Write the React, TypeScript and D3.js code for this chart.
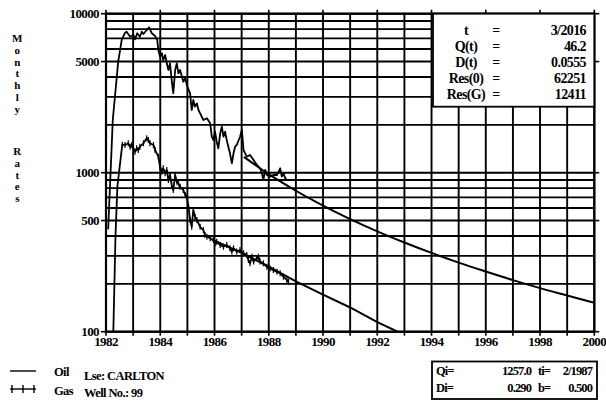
import * as d3 from "d3";

// upper curve (Oil, plain line)
const oilYears = [
  1982.08, 1982.25, 1982.45, 1982.58, 1982.7, 1982.76, 1982.89, 1983.01, 1983.07, 1983.15,
  1983.25, 1983.32, 1983.38, 1983.5, 1983.59, 1983.69, 1983.81, 1983.89, 1983.93, 1983.99,
  1984.06, 1984.11, 1984.18, 1984.24, 1984.3, 1984.36, 1984.42, 1984.48, 1984.55, 1984.61,
  1984.67, 1984.73, 1984.85, 1984.92, 1985.0, 1985.1, 1985.16, 1985.22, 1985.28, 1985.35,
  1985.41, 1985.47, 1985.59, 1985.72, 1985.84, 1985.9, 1985.96, 1986.02, 1986.08, 1986.14,
  1986.21, 1986.27, 1986.33, 1986.39, 1986.45, 1986.51, 1986.57, 1986.64, 1986.7, 1986.76,
  1986.82, 1986.94, 1987.01, 1987.07, 1987.13, 1987.19, 1987.31, 1987.44, 1987.56, 1987.68,
  1987.75, 1987.8, 1987.87, 1987.93, 1988.05, 1988.17, 1988.3, 1988.42, 1988.48, 1988.54,
  1988.61, 1988.67,
];
const oilRates = [
  440, 2145, 4990, 6835, 7580, 7706, 7165, 7347, 6903, 7530,
  7165, 7706, 7452, 7893, 8210, 7530, 7240, 6835, 5912, 5370,
  5636, 5114, 5500, 4875, 4426, 4875, 3830, 3158, 4426, 4875,
  4218, 4426, 3736, 3925, 3474, 3158, 2480, 2866, 2602, 2731,
  2480, 2364, 2145, 2199, 2045, 1684, 1606, 1811, 1567, 1424,
  1770, 1947, 1684, 1811, 1606, 1458, 1324, 1146, 1324, 1458,
  1494, 1684, 1856, 1389, 1324, 1261, 1292, 1202, 1118, 1066,
  991, 900, 1040, 967, 944, 967, 967, 1066, 944, 991,
  922, 900,
];

// lower curve (Gas, line with + marks)
const gasYears = [
  1982.27, 1982.35, 1982.42, 1982.52, 1982.6, 1982.7, 1982.82, 1982.89, 1982.95, 1983.07,
  1983.13, 1983.19, 1983.25, 1983.38, 1983.5, 1983.56, 1983.62, 1983.75, 1983.81, 1983.93,
  1983.99, 1984.06, 1984.11, 1984.18, 1984.24, 1984.3, 1984.36, 1984.42, 1984.48, 1984.55,
  1984.61, 1984.67, 1984.73, 1984.85, 1984.92, 1984.98, 1985.04, 1985.1, 1985.16, 1985.22,
  1985.28, 1985.35, 1985.47, 1985.59, 1985.65, 1985.72, 1985.84, 1985.96, 1986.02, 1986.08,
  1986.21, 1986.33, 1986.45, 1986.57, 1986.64, 1986.7, 1986.82, 1986.94, 1987.07, 1987.19,
  1987.25, 1987.31, 1987.38, 1987.44, 1987.56, 1987.62, 1987.68, 1987.8, 1987.93, 1988.05,
  1988.17, 1988.3, 1988.42, 1988.54, 1988.67, 1988.73,
];
const gasRates = [
  100, 400, 820, 1150, 1500, 1494, 1531, 1458, 1494, 1355,
  1424, 1389, 1458, 1531, 1646, 1606, 1531, 1494, 1389, 1261,
  1091, 1014, 1066, 991, 1040, 900, 967, 837, 778, 967,
  878, 858, 817, 778, 724, 706, 611, 504, 457, 583,
  529, 504, 457, 436, 406, 396, 387, 377, 360, 368,
  351, 342, 351, 335, 319, 335, 319, 326, 311, 304,
  282, 269, 296, 276, 290, 296, 276, 269, 256, 250,
  244, 238, 233, 222, 211, 206,
];

// forecast lines
const oilFcYears = [1987.083, 1987.5, 1988, 1989, 1990, 1991, 1992, 1993, 1994, 1995, 1996, 1997, 1998, 1999, 2000];
const oilFcRates = [1257, 1118, 979, 770, 621, 511, 428, 364, 313, 272, 239, 211, 188, 169, 152];
const gasFcYears = [1985.9, 1987, 1988, 1989, 1990, 1991, 1992, 1992.75];
const gasFcRates = [380, 313, 257, 207, 171, 142, 115, 100];

const yTicks = [10000, 5000, 1000, 500, 100];
const yGrid = [100, 200, 300, 400, 500, 600, 700, 800, 900, 1000, 2000, 3000, 4000, 5000, 6000, 7000, 8000, 9000, 10000];
const xYears = d3.range(1982, 2001);
const xLabels = d3.range(1982, 2001, 2);

const infoLabels = ["t", "Q(t)", "D(t)", "Res(0)", "Res(G)"];
const infoValues = ["3/2016", "46.2", "0.0555", "62251", "12411"];

const yLabelTop = "Monthly";
const yLabelBottom = "Rates";

const FONT = "'Liberation Serif', 'Times New Roman', serif";

export default function App() {
  const x = d3.scaleLinear().domain([1982, 2000]).range([106, 594.3]);
  const y = d3.scaleLog().domain([100, 10000]).range([331.7, 13.7]);
  const [x0, x1] = x.range();
  const [y0, y1] = y.range();

  const smooth = d3
    .line<[number, number]>()
    .x((d) => x(d[0]))
    .y((d) => y(d[1]))
    .curve(d3.curveMonotoneX);
  const plainLine = d3
    .line<[number, number]>()
    .x((d) => x(d[0]))
    .y((d) => y(d[1]));

  const oilPts = oilYears.map((t, i) => [t, oilRates[i]] as [number, number]);
  const gasPts = gasYears.map((t, i) => [t, gasRates[i]] as [number, number]);
  const oilFc = oilFcYears.map((t, i) => [t, oilFcRates[i]] as [number, number]);
  const gasFc = gasFcYears.map((t, i) => [t, gasFcRates[i]] as [number, number]);

  return (
    <svg
      width={606}
      height={409}
      viewBox="0 0 606 409"
      style={{ position: "absolute", left: 0, top: 0, background: "#fff" }}
      fontFamily={FONT}
      fontWeight="bold"
      letterSpacing={-0.6}
    >
      <defs>
        <clipPath id="plot">
          <rect x={x0} y={y1} width={x1 - x0} height={y0 - y1} />
        </clipPath>
      </defs>
      <rect width={606} height={409} fill="#fff" />

      {/* grid */}
      {yGrid.map((v) => (
        <line key={"h" + v} x1={x0} x2={x1} y1={y(v)} y2={y(v)} stroke="#000" strokeWidth={1.9} />
      ))}
      {xYears.map((t) => (
        <line key={"v" + t} x1={x(t)} x2={x(t)} y1={y1} y2={y0} stroke="#000" strokeWidth={1.9} />
      ))}
      <rect x={x0} y={y1} width={x1 - x0} height={y0 - y1} fill="none" stroke="#000" strokeWidth={2.2} />

      {/* outer ticks */}
      {xYears.map((t) => (
        <line key={"bt" + t} x1={x(t)} x2={x(t)} y1={y0} y2={y0 + 4} stroke="#000" strokeWidth={1.6} />
      ))}
      {xLabels.map((t) => (
        <line key={"tt" + t} x1={x(t)} x2={x(t)} y1={y1} y2={y1 - 4} stroke="#000" strokeWidth={1.6} />
      ))}
      {yTicks.map((v) => (
        <g key={"yt" + v}>
          <line x1={x0 - 5} x2={x0} y1={y(v)} y2={y(v)} stroke="#000" strokeWidth={1.6} />
          <line x1={x1} x2={x1 + 5} y1={y(v)} y2={y(v)} stroke="#000" strokeWidth={1.6} />
        </g>
      ))}

      {/* data */}
      <g clipPath="url(#plot)" fill="none" stroke="#000">
        <path d={smooth(oilFc) ?? ""} strokeWidth={2} />
        <path d={plainLine(gasFc) ?? ""} strokeWidth={2} />
        <path d={plainLine(oilPts) ?? ""} strokeWidth={1.8} strokeLinejoin="round" />
        <path d={plainLine(gasPts) ?? ""} strokeWidth={1.8} strokeLinejoin="round" />
        {gasPts.slice(4).map((d, i) => (
          <line
            key={"g" + i}
            x1={x(d[0])}
            x2={x(d[0])}
            y1={y(d[1]) - 3}
            y2={y(d[1]) + 3}
            strokeWidth={1.2}
          />
        ))}
      </g>

      {/* axis labels */}
      {yTicks.map((v) => (
        <text key={"yl" + v} x={99} y={y(v) + 4.5} textAnchor="end" fontSize={13}>
          {v}
        </text>
      ))}
      {xLabels.map((t) => (
        <text key={"xl" + t} x={x(t)} y={346} textAnchor="middle" fontSize={13}>
          {t}
        </text>
      ))}

      {/* vertical y title */}
      {yLabelTop.split("").map((c, i) => (
        <text key={"m" + i} x={17} y={42 + i * 11.8} textAnchor="middle" fontSize={11}>
          {c}
        </text>
      ))}
      {yLabelBottom.split("").map((c, i) => (
        <text key={"r" + i} x={17} y={155 + i * 11.8} textAnchor="middle" fontSize={11}>
          {c}
        </text>
      ))}

      {/* info box */}
      <rect x={433} y={y1} width={x1 - 433} height={93} fill="#fff" stroke="#000" strokeWidth={1.8} />
      {infoLabels.map((l, i) => (
        <g key={"ib" + i} fontSize={14}>
          <text x={466} y={35 + i * 16} textAnchor="middle">
            {l}
          </text>
          <text x={496} y={35 + i * 16} textAnchor="middle">
            =
          </text>
          <text x={586} y={35 + i * 16} textAnchor="end">
            {infoValues[i]}
          </text>
        </g>
      ))}

      {/* fit parameters box */}
      <rect x={432} y={361.5} width={165} height={37.5} fill="#fff" stroke="#000" strokeWidth={1.8} />
      <g fontSize={12.5} letterSpacing={-0.9}>
        <text x={436} y={375}>Qi=</text>
        <text x={531} y={375} textAnchor="end">1257.0</text>
        <text x={538} y={375}>ti=</text>
        <text x={592} y={375} textAnchor="end">2/1987</text>
        <text x={436} y={392}>Di=</text>
        <text x={531} y={392} textAnchor="end">0.290</text>
        <text x={538} y={392}>b=</text>
        <text x={592} y={392} textAnchor="end">0.500</text>
      </g>

      {/* legend */}
      <line x1={10} x2={36} y1={371} y2={371} stroke="#000" strokeWidth={1.4} />
      <line x1={10} x2={36} y1={389} y2={389} stroke="#000" strokeWidth={1.4} />
      {[12, 23, 34].map((px) => (
        <line key={"lp" + px} x1={px} x2={px} y1={385} y2={393} stroke="#000" strokeWidth={1.4} />
      ))}
      <g fontSize={12.5}>
        <text x={54} y={376}>Oil</text>
        <text x={54} y={395}>Gas</text>
        <text x={84} y={380}>Lse: CARLTON</text>
        <text x={84} y={397}>Well No.: 99</text>
      </g>
    </svg>
  );
}
